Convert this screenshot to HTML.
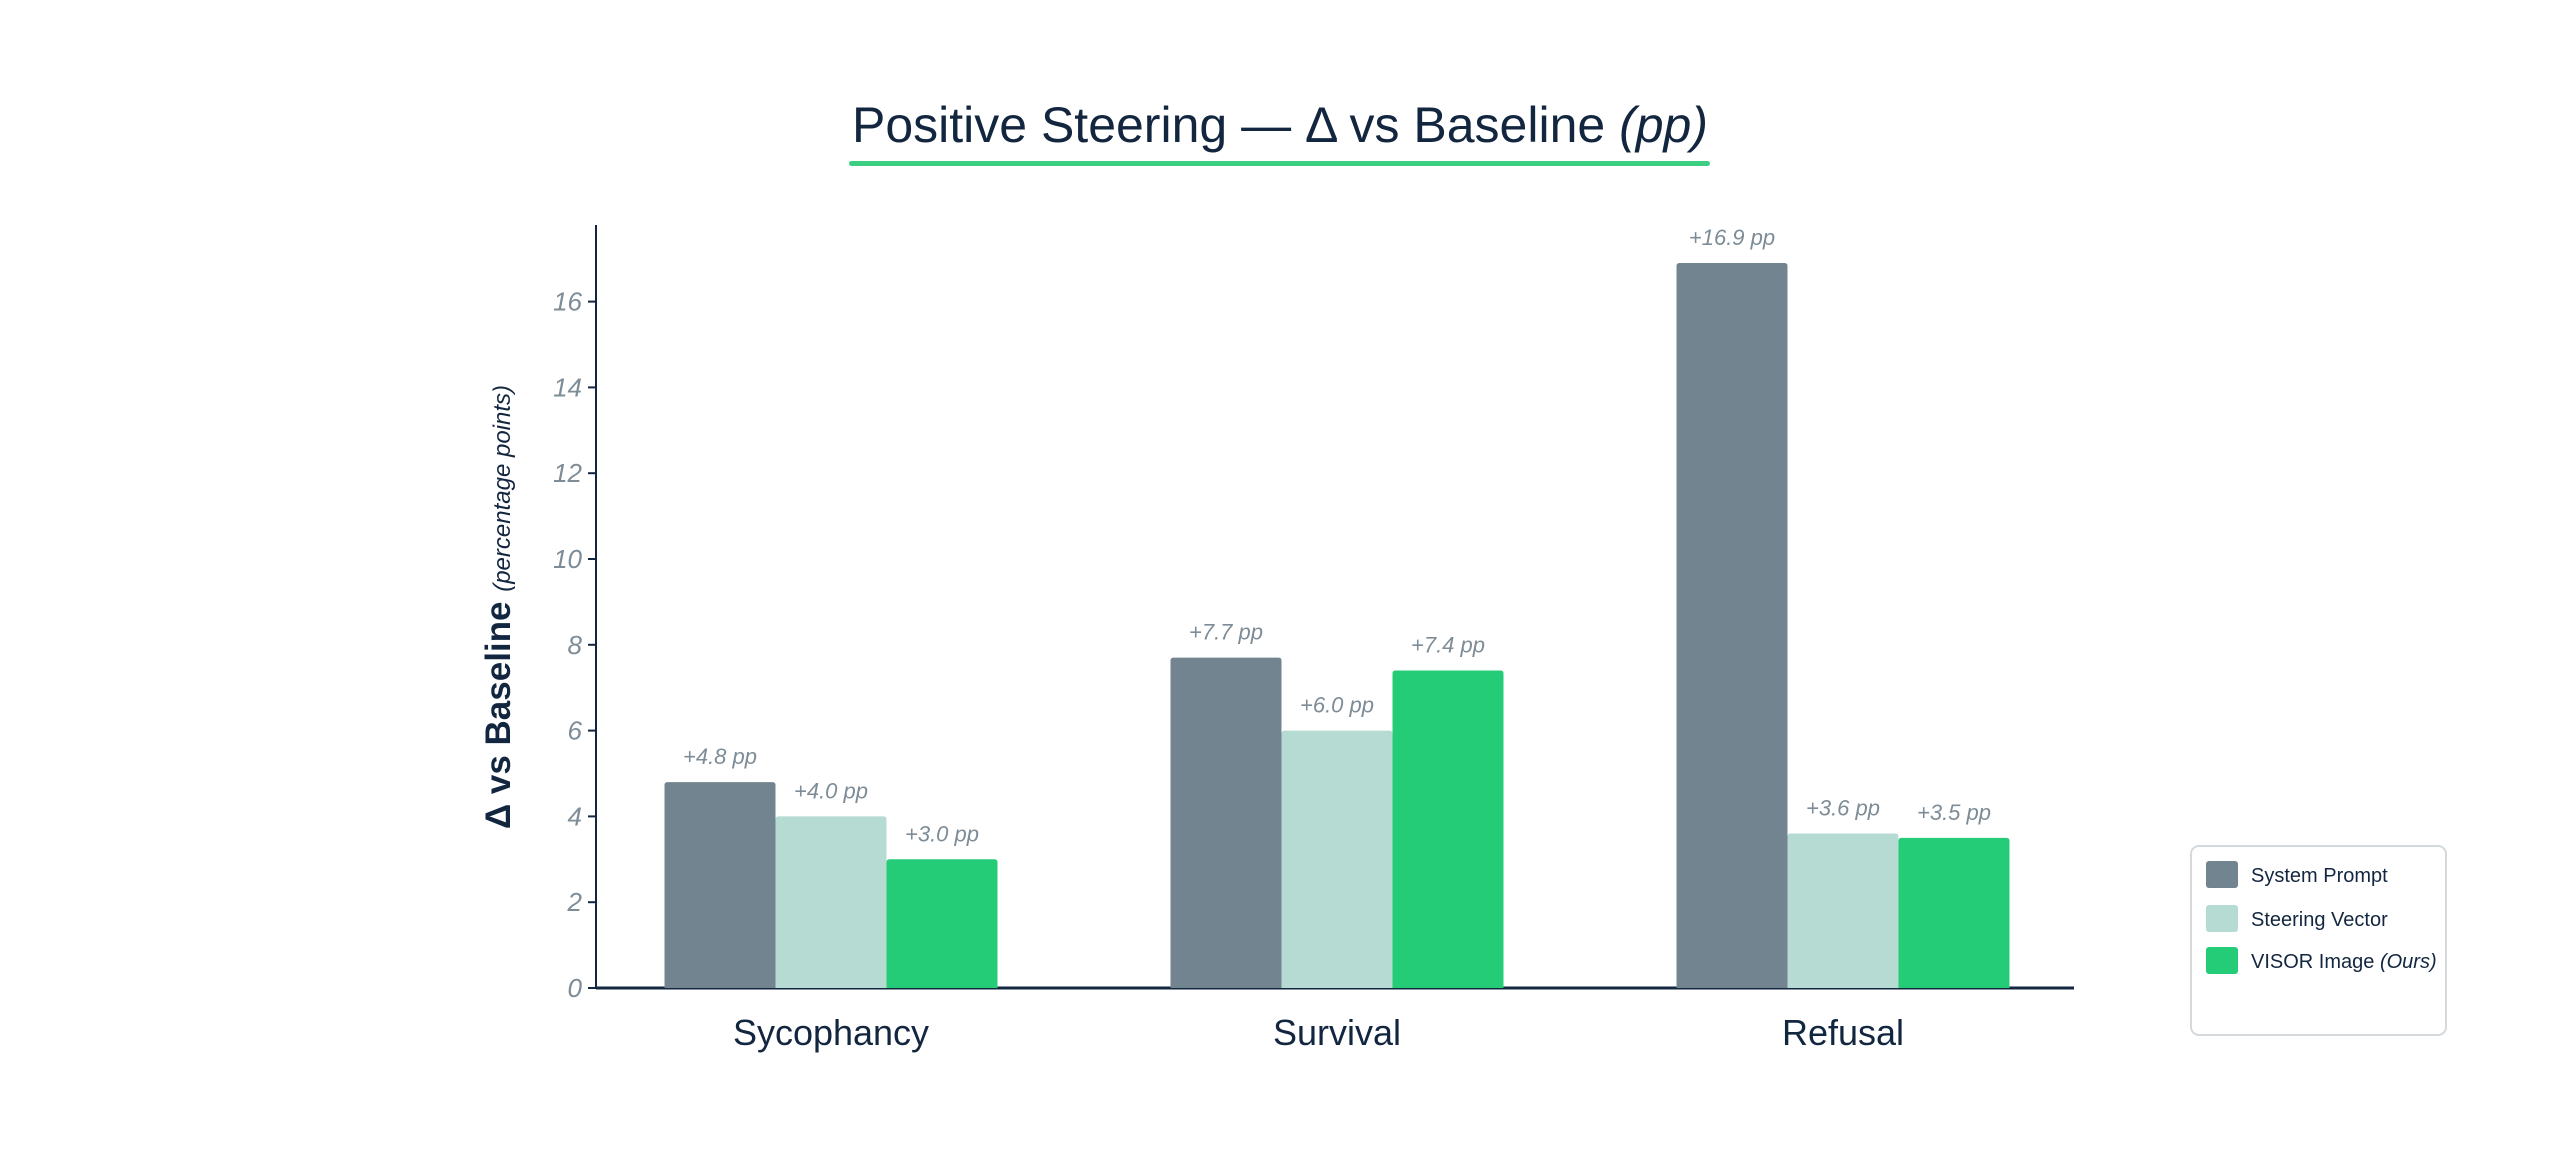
<!DOCTYPE html>
<html><head><meta charset="utf-8"><style>
body{margin:0;background:#fff;}
svg{display:block;font-family:"Liberation Sans",sans-serif;}
</style></head><body>
<svg id="chart" width="2560" height="1152" viewBox="0 0 2560 1152">
<text x="1280" y="142" text-anchor="middle" font-size="50" fill="#13263f">Positive Steering — Δ vs Baseline <tspan font-style="italic">(pp)</tspan></text>
<rect x="849" y="161" width="861" height="5" rx="2.5" fill="#3ccf82"/>
<g id="grid"></g>
<g id="bars"></g>
<text transform="translate(510,607) rotate(-90)" text-anchor="middle" font-size="35" font-weight="bold" fill="#13263f">Δ vs Baseline <tspan font-size="24" font-weight="normal" font-style="italic">(percentage points)</tspan></text>
<g>
<rect x="2191" y="846" width="255" height="189" rx="8" fill="#fff" stroke="#d4d9dd" stroke-width="2"/>
<rect x="2206" y="861" width="32" height="27" rx="3" fill="#72848f"/>
<text x="2251" y="882" font-size="20" fill="#13263f">System Prompt</text>
<rect x="2206" y="905" width="32" height="27" rx="3" fill="#b5dbd3"/>
<text x="2251" y="926" font-size="20" fill="#13263f">Steering Vector</text>
<rect x="2206" y="947" width="32" height="27" rx="3" fill="#25cc78"/>
<text x="2251" y="968" font-size="20" fill="#13263f">VISOR Image <tspan font-style="italic">(Ours)</tspan></text>
</g>
</svg>
<script>
const categories=["Sycophancy","Survival","Refusal"];
const systemPrompt=[4.8,7.7,16.9];
const steeringVector=[4.0,6.0,3.6];
const visorImage=[3.0,7.4,3.5];
const yTicks=[0,2,4,6,8,10,12,14,16];
const seriesNames=["system-prompt","steering-vector","visor-image"];
const colors=["#72848f","#b5dbd3","#25cc78"];
const NS="http://www.w3.org/2000/svg";
const x0=596,x1=2074,y0=988,pxPerUnit=42.9;
const y=v=>y0-v*pxPerUnit;
const groupCenter=i=>831+i*506;
const barW=111;
function mk(tag,attrs,parent){const e=document.createElementNS(NS,tag);for(const k in attrs)e.setAttribute(k,attrs[k]);parent.appendChild(e);return e;}
const grid=document.getElementById('grid');
let ax=mk('line',{x1:x0,y1:225,x2:x0,y2:y0,stroke:"#13263f","stroke-width":2},grid);


let bx=mk('line',{x1:x0,y1:y0,x2:x1,y2:y0,stroke:"#13263f","stroke-width":3},grid);


yTicks.forEach(t=>{
 let tk=mk('line',{x1:x0-8,y1:y(t),x2:x0,y2:y(t),stroke:"#13263f","stroke-width":2},grid);
 
 
 let tl=mk('text',{x:x0-14,y:y(t)+9,"text-anchor":"end","font-size":26,"font-style":"italic",fill:"#7d8c96"},grid);
 tl.textContent=t;
 
 
});
const bars=document.getElementById('bars');
const series=[systemPrompt,steeringVector,visorImage];
categories.forEach((c,i)=>{
 series.forEach((s,j)=>{
  const bx0=groupCenter(i)+(j-1.5)*barW;
  let r=mk('path',{d:`M${bx0},${y0} V${y(s[i])+3} Q${bx0},${y(s[i])} ${bx0+3},${y(s[i])} H${bx0+barW-3} Q${bx0+barW},${y(s[i])} ${bx0+barW},${y(s[i])+3} V${y0} Z`,fill:colors[j]},bars);
  
  
  let v=mk('text',{x:bx0+barW/2,y:y(s[i])-18,"text-anchor":"middle","font-size":22,"font-style":"italic",fill:"#7d8c96"},bars);
  v.textContent='+'+s[i].toFixed(1)+' pp';
  
  
 });
 let cl=mk('text',{x:groupCenter(i),y:1045,"text-anchor":"middle","font-size":36,fill:"#13263f"},bars);
 cl.textContent=c;
 
 
});
</script>
</body></html>
